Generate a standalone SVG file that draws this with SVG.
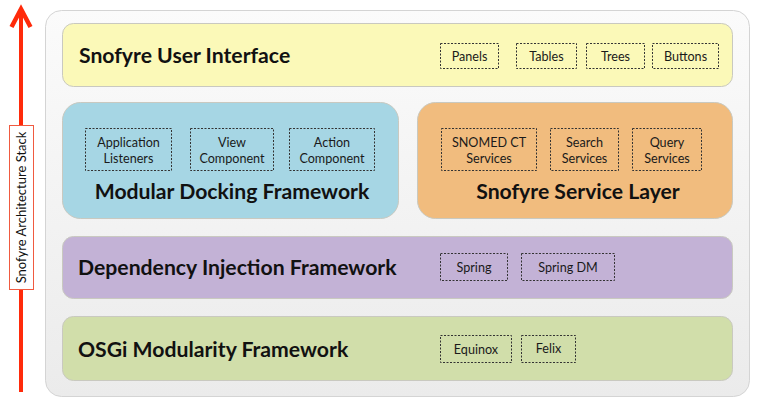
<svg xmlns="http://www.w3.org/2000/svg" width="759" height="404" viewBox="0 0 759 404">
<defs>
<linearGradient id="bg" x1="0" y1="0" x2="0" y2="1">
<stop offset="0" stop-color="#fbfbfb"/>
<stop offset="1" stop-color="#ebebeb"/>
</linearGradient>
</defs>
<style>
.layer{stroke:#c9c9c0;stroke-width:1}
.title{font-family:Lato,"Open Sans",sans-serif;font-weight:bold;font-size:21.2px;fill:#111}
.dbox{fill:none;stroke:#333;stroke-width:1;stroke-dasharray:2,1.5}
.small{font-family:Lato,"Open Sans",sans-serif;font-size:12.6px;fill:#1a1a1a;text-anchor:middle}
</style>
<rect x="0" y="0" width="759" height="404" fill="#ffffff"/>
<g id="container">
<rect x="45.500" y="10.500" width="704" height="386" rx="16" fill="url(#bg)" stroke="#d4d4d4"/>
</g>
<g id="connectors">
<line x1="21" y1="392" x2="21" y2="12" stroke="#ff2a0a" stroke-width="4"/>
<polyline points="11.500,27 21,9 30.500,27" fill="none" stroke="#ff2a0a" stroke-width="4.500" stroke-linejoin="miter" stroke-linecap="butt"/>
</g>
<g id="stack-label">
<rect x="9.500" y="125.500" width="24" height="164" fill="#ffffff" stroke="#f05a40"/>
<text transform="translate(25.800,207.500) rotate(-90)" text-anchor="middle" font-family="Lato,'Open Sans',sans-serif" font-size="13" fill="#111">Snofyre Architecture Stack</text>
</g>
<g id="ui-layer">
<rect class="layer" x="62.500" y="23.500" width="670" height="63" rx="11" fill="#fbf9b8"/>
<text class="title" x="79" y="63">Snofyre User Interface</text>
<rect class="dbox" x="440.500" y="43.500" width="58" height="25"/>
<text class="small" x="469.500" y="61">Panels</text>
<rect class="dbox" x="516.500" y="43.500" width="60" height="25"/>
<text class="small" x="546.500" y="61">Tables</text>
<rect class="dbox" x="586.500" y="43.500" width="58" height="25"/>
<text class="small" x="615.500" y="61">Trees</text>
<rect class="dbox" x="652.500" y="43.500" width="66" height="25"/>
<text class="small" x="685.500" y="61">Buttons</text>
</g>
<g id="docking-layer">
<rect class="layer" x="62.500" y="102.500" width="336" height="116" rx="18" fill="#a6d6e4"/>
<rect class="dbox" x="85.500" y="128.500" width="86" height="42"/>
<text class="small" x="128.500" y="147">Application</text>
<text class="small" x="128.500" y="163">Listeners</text>
<rect class="dbox" x="190.500" y="128.500" width="83" height="42"/>
<text class="small" x="232" y="147">View</text>
<text class="small" x="232" y="163">Component</text>
<rect class="dbox" x="289.500" y="128.500" width="85" height="42"/>
<text class="small" x="332" y="147">Action</text>
<text class="small" x="332" y="163">Component</text>
<text class="title" x="232" y="199" text-anchor="middle">Modular Docking Framework</text>
</g>
<g id="service-layer">
<rect class="layer" x="417.500" y="102.500" width="315" height="116" rx="18" fill="#f1bc7e"/>
<rect class="dbox" x="441.500" y="128.500" width="95" height="42"/>
<text class="small" x="489" y="147">SNOMED CT</text>
<text class="small" x="489" y="163">Services</text>
<rect class="dbox" x="550.500" y="128.500" width="68" height="42"/>
<text class="small" x="584.500" y="147">Search</text>
<text class="small" x="584.500" y="163">Services</text>
<rect class="dbox" x="632.500" y="128.500" width="69" height="42"/>
<text class="small" x="667" y="147">Query</text>
<text class="small" x="667" y="163">Services</text>
<text class="title" x="578" y="199" text-anchor="middle">Snofyre Service Layer</text>
</g>
<g id="di-layer">
<rect class="layer" x="62.500" y="236.500" width="670" height="62" rx="11" fill="#c3b2d6"/>
<text class="title" x="78" y="275">Dependency Injection Framework</text>
<rect class="dbox" x="440.500" y="253.500" width="67" height="27"/>
<text class="small" x="474" y="272">Spring</text>
<rect class="dbox" x="521.500" y="253.500" width="93" height="27"/>
<text class="small" x="568" y="272">Spring DM</text>
</g>
<g id="osgi-layer">
<rect class="layer" x="62.500" y="316.500" width="670" height="64" rx="11" fill="#d1deaa"/>
<text class="title" x="78" y="357">OSGi Modularity Framework</text>
<rect class="dbox" x="440.500" y="335.500" width="71" height="27"/>
<text class="small" x="476" y="354">Equinox</text>
<rect class="dbox" x="521.500" y="335.500" width="54" height="27"/>
<text class="small" x="548.500" y="353">Felix</text>
</g>
</svg>
